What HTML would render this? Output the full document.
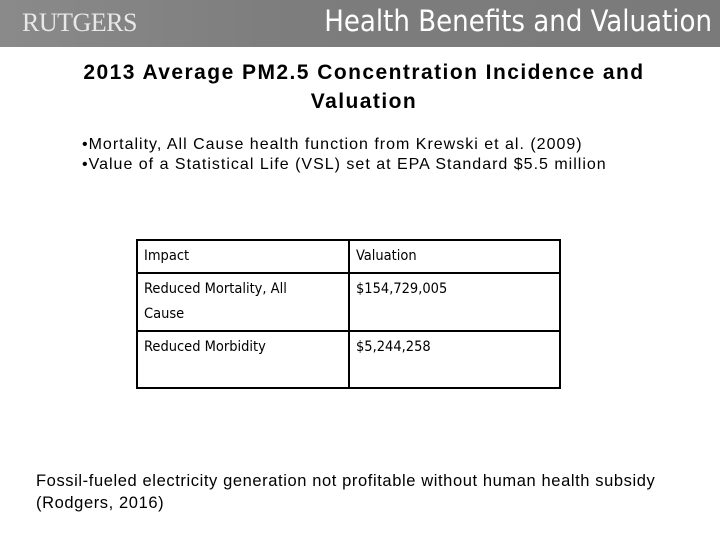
<!DOCTYPE html>
<html><head><meta charset="utf-8"><style>
body{margin:0;width:720px;height:540px;background:#fff;position:relative;overflow:hidden;font-family:"Liberation Sans",sans-serif;}
.abs{position:absolute;}
#hdr{left:0;top:0;width:720px;height:47px;background:linear-gradient(90deg,#8a8a8a,#7d7d7d 40%,#7a7a7a);}
#logo{left:22px;top:8px;font-family:"Liberation Serif",serif;color:#e8e8e8;font-size:26px;letter-spacing:-0.5px;}
#htitle{right:8px;top:4px;color:#fff;font-size:29px;font-family:"DejaVu Sans Condensed","Liberation Sans",sans-serif;}
#title{left:0;width:728px;top:58px;text-align:center;font-weight:bold;font-size:21px;letter-spacing:1.45px;line-height:29px;color:#000;}
#bul{left:82px;top:135px;font-size:16px;letter-spacing:1px;line-height:20px;}
table{position:absolute;left:136px;top:239px;border-collapse:collapse;table-layout:fixed;width:423px;font-family:"DejaVu Sans Condensed","DejaVu Sans","Liberation Sans",sans-serif;font-size:14.5px;}
td{border:2px solid #000;vertical-align:top;padding:3px 6px;line-height:25px;overflow:hidden;}
td.c1{padding-right:40px;}
#foot{left:36px;top:470px;font-size:16.5px;letter-spacing:0.6px;line-height:22px;}
</style></head><body>
<div id="hdr" class="abs"></div>
<div id="logo" class="abs">RUTGERS</div>
<div id="htitle" class="abs">Health Benefits and Valuation</div>
<div id="title" class="abs">2013 Average PM2.5 Concentration Incidence and<br>Valuation</div>
<div id="bul" class="abs">•Mortality, All Cause health function from Krewski et al. (2009)<br>•Value of a Statistical Life (VSL) set at EPA Standard $5.5 million</div>
<table>
<colgroup><col style="width:212px"><col style="width:211px"></colgroup>
<tr style="height:31px"><td class="c1">Impact</td><td>Valuation</td></tr>
<tr style="height:58px"><td class="c1">Reduced Mortality, All Cause</td><td>$154,729,005</td></tr>
<tr style="height:57px"><td class="c1">Reduced Morbidity</td><td>$5,244,258</td></tr>
</table>
<div id="foot" class="abs">Fossil-fueled electricity generation not profitable without human health subsidy<br>(Rodgers, 2016)</div>
</body></html>
